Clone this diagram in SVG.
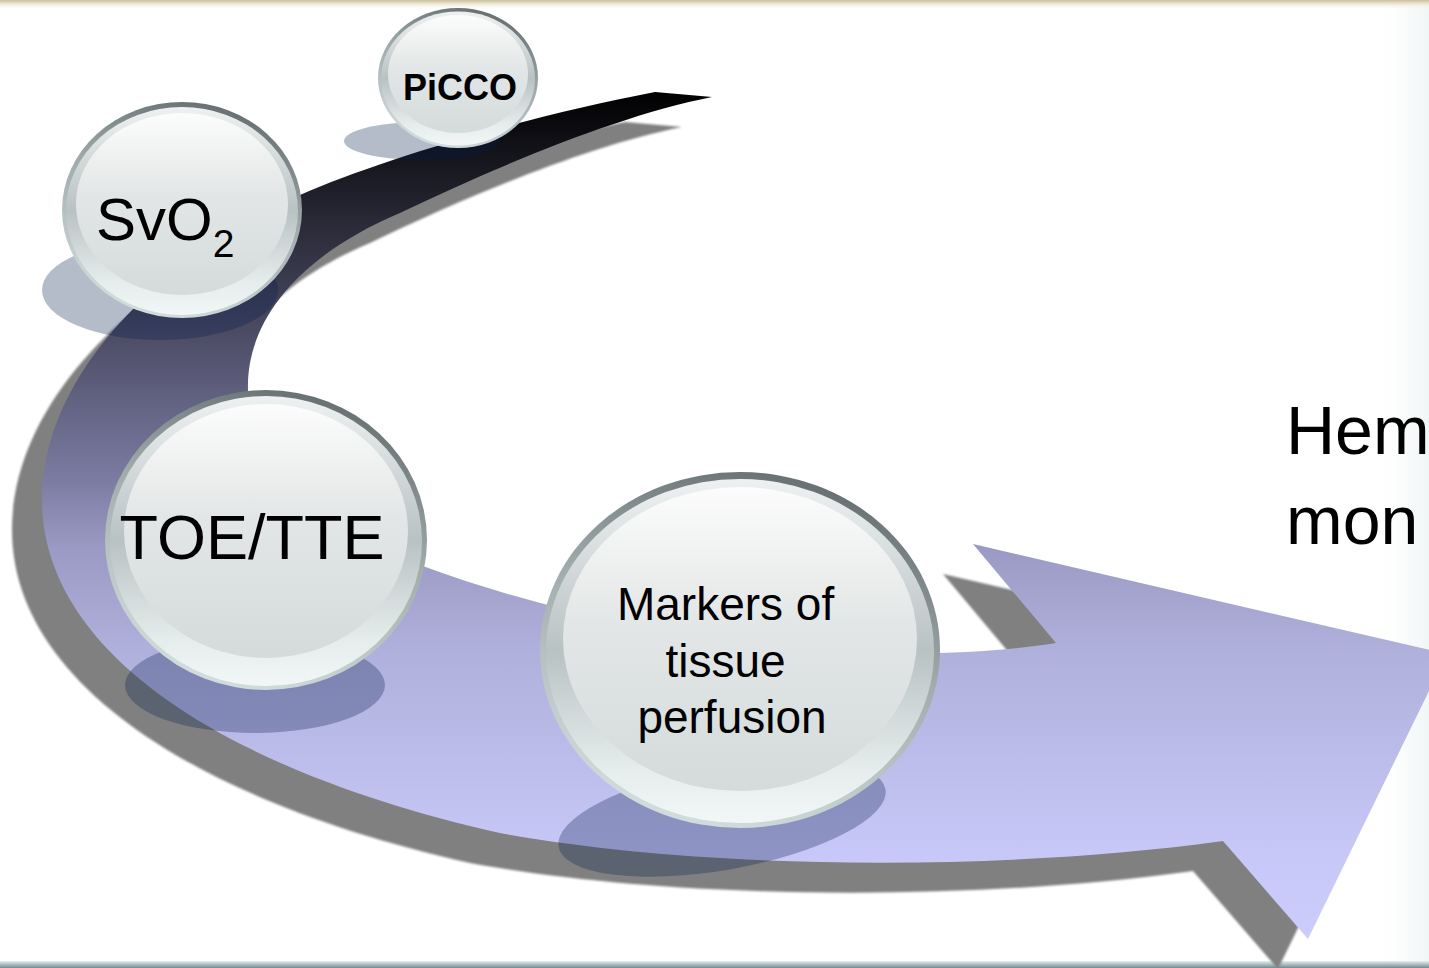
<svg xmlns="http://www.w3.org/2000/svg" width="1429" height="968" viewBox="0 0 1429 968">
  <defs>
    <linearGradient id="bandGrad" gradientUnits="userSpaceOnUse" x1="0" y1="90" x2="0" y2="940">
      <stop offset="0" stop-color="#000000"/>
      <stop offset="0.13" stop-color="#22222e"/>
      <stop offset="0.28" stop-color="#4a4a63"/>
      <stop offset="0.46" stop-color="#7c7ca3"/>
      <stop offset="0.54" stop-color="#9a9ac4"/>
      <stop offset="0.66" stop-color="#b0b0dc"/>
      <stop offset="0.9" stop-color="#c8c8f8"/>
      <stop offset="1" stop-color="#ccccfc"/>
    </linearGradient>
    <linearGradient id="rim" x1="0.7" y1="0" x2="0.35" y2="1">
      <stop offset="0" stop-color="#646c6e"/>
      <stop offset="0.45" stop-color="#a2acad"/>
      <stop offset="1" stop-color="#d3dede"/>
    </linearGradient>
    <linearGradient id="bevel" x1="0" y1="0" x2="0" y2="1">
      <stop offset="0" stop-color="#eef1f1"/>
      <stop offset="0.5" stop-color="#b9c2c3"/>
      <stop offset="0.85" stop-color="#e6eded"/>
      <stop offset="1" stop-color="#f2f6f6"/>
    </linearGradient>
    <linearGradient id="face" x1="0" y1="0" x2="0" y2="1">
      <stop offset="0" stop-color="#fcfcfc"/>
      <stop offset="0.45" stop-color="#e3e6e6"/>
      <stop offset="1" stop-color="#d4dbdb"/>
    </linearGradient>
    <linearGradient id="topBar" x1="0" y1="0" x2="0" y2="1">
      <stop offset="0" stop-color="#c9bf9e"/>
      <stop offset="0.3" stop-color="#e6dfca"/>
      <stop offset="1" stop-color="#ffffff" stop-opacity="0"/>
    </linearGradient>
    <linearGradient id="botBar" x1="0" y1="0" x2="0" y2="1">
      <stop offset="0" stop-color="#e4eeee"/>
      <stop offset="1" stop-color="#6f8c8f"/>
    </linearGradient>
    <linearGradient id="rightTex" x1="0" y1="0" x2="1" y2="0">
      <stop offset="0" stop-color="#ffffff" stop-opacity="0"/>
      <stop offset="1" stop-color="#f0f5f5"/>
    </linearGradient>
    <filter id="soft" x="-5%" y="-5%" width="110%" height="110%">
      <feGaussianBlur stdDeviation="1.3"/>
    </filter>
    <path id="band" d="M 655,92 L 712,97 C 620,115 500,165 400,213 C 300,255 246,320 248,390 C 248,460 300,520 420,565 C 650,650 900,668 1056,643 L 973,544 L 1447,654 L 1308,939 L 1223,841 C 1000,872 700,870 500,833 C 220,770 42,650 42,500 C 42,380 150,265 300,195 C 380,160 520,118 655,92 Z"/>
  </defs>
  <style>
    .sh { fill: #051e4d; fill-opacity: 0.3; }
    .rim { fill: url(#rim); }
    .bevel { fill: url(#bevel); }
    .face { fill: url(#face); }
    .lbl { font-family: "Liberation Sans", Arial, sans-serif; fill: #000000; }
  </style>

  <rect width="1429" height="968" fill="#ffffff"/>
  <rect x="1370" y="0" width="59" height="968" fill="url(#rightTex)"/>
  <rect x="0" y="0" width="1429" height="10" fill="url(#topBar)"/>
  <rect x="0" y="961" width="1429" height="7" fill="url(#botBar)"/>

  <g id="connectors">
    <use href="#band" transform="translate(-30,30)" fill="#808080" filter="url(#soft)"/>
    <use href="#band" fill="url(#bandGrad)"/>
  </g>

  <g id="node-picco">
    <ellipse class="sh" cx="422" cy="141" rx="78" ry="19"/>
    <ellipse class="rim" cx="458" cy="78" rx="80" ry="70"/>
    <ellipse class="bevel" cx="458" cy="78.5" rx="77" ry="67"/>
    <ellipse class="face" cx="458" cy="74" rx="70" ry="59"/>
    <text class="lbl" x="460" y="100" font-size="36" font-weight="bold" text-anchor="middle">PiCCO</text>
  </g>

  <g id="node-svo2">
    <ellipse class="sh" cx="160" cy="290" rx="118" ry="50"/>
    <ellipse class="rim" cx="182" cy="210" rx="120" ry="108"/>
    <ellipse class="bevel" cx="182" cy="211" rx="116" ry="104"/>
    <ellipse class="face" cx="182" cy="204" rx="106" ry="91"/>
    <text class="lbl" x="96" y="240" font-size="60">SvO<tspan font-size="39" dy="17">2</tspan></text>
  </g>

  <g id="node-toe">
    <ellipse class="sh" cx="255" cy="685" rx="130" ry="48"/>
    <ellipse class="rim" cx="266" cy="540" rx="161" ry="150"/>
    <ellipse class="bevel" cx="266" cy="541" rx="156" ry="145"/>
    <ellipse class="face" cx="266" cy="531" rx="142" ry="127"/>
    <text class="lbl" x="252" y="559" font-size="63" text-anchor="middle">TOE/TTE</text>
  </g>

  <g id="node-markers">
    <ellipse class="sh" cx="722" cy="818" rx="166" ry="52" transform="rotate(-10 722 818)"/>
    <ellipse class="rim" cx="740" cy="650" rx="200" ry="178"/>
    <ellipse class="bevel" cx="740" cy="651" rx="194" ry="172"/>
    <ellipse class="face" cx="740" cy="639" rx="177" ry="152"/>
    <text class="lbl" font-size="46" text-anchor="middle">
      <tspan x="732" y="620">Markers of</tspan>
      <tspan x="732" y="677">tissue</tspan>
      <tspan x="732" y="733">perfusion</tspan>
    </text>
  </g>

  <g id="title">
    <text class="lbl" font-size="68">
      <tspan x="1286" y="454">Hem</tspan>
      <tspan x="1286" y="544">mon</tspan>
    </text>
  </g>
</svg>
